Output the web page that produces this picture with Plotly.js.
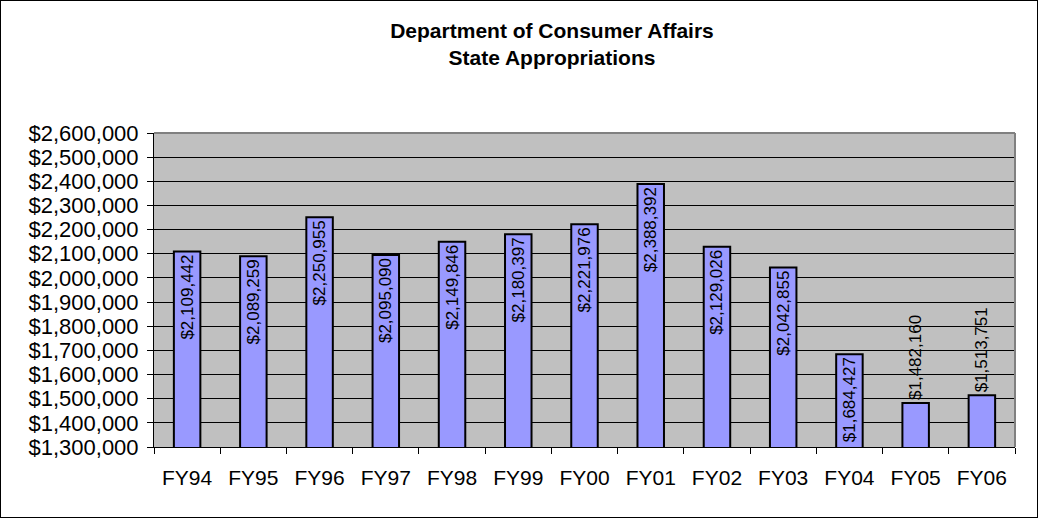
<!DOCTYPE html>
<html>
<head>
<meta charset="utf-8">
<script src="https://cdn.plot.ly/plotly-3.0.1.min.js"></script>
<style>
html,body{margin:0;padding:0;background:#fff;}
#wrap{position:relative;width:1039px;height:519px;}
#chart{width:1039px;height:519px;}
#frame{position:absolute;left:0;top:0;width:1038px;height:518px;box-sizing:border-box;border:1px solid #000;pointer-events:none;}
</style>
</head>
<body>
<div id="wrap"><div id="chart"></div><div id="frame"></div></div>
<script>
const categories = ["FY94","FY95","FY96","FY97","FY98","FY99","FY00","FY01","FY02","FY03","FY04","FY05","FY06"];
const appropriations = [2109442,2089259,2250955,2095090,2149846,2180397,2221976,2388392,2129026,2042855,1684427,1482160,1513751];
const labelPositions = ["inside","inside","inside","inside","inside","inside","inside","inside","inside","inside","inside","outside","outside"];
const yTickValues = [1300000,1400000,1500000,1600000,1700000,1800000,1900000,2000000,2100000,2200000,2300000,2400000,2500000,2600000];

const font = "Arial, 'Liberation Sans', sans-serif";

const trace = {
  type: "bar",
  x: categories,
  y: appropriations,
  marker: {color: "#9999FF", line: {color: "#000", width: 2}},
  text: appropriations.map(v => "$" + v.toLocaleString("en-US")),
  texttemplate: "%{text}",
  textposition: labelPositions,
  textangle: -90,
  insidetextanchor: "end",
  constraintext: "none",
  cliponaxis: false,
  textfont: {family: font, size: 17, color: "#000"},
  insidetextfont: {family: font, size: 17, color: "#000"},
  outsidetextfont: {family: font, size: 17, color: "#000"},
  hoverinfo: "none"
};

const layout = {
  width: 1039, height: 519,
  margin: {l: 154, r: 24, t: 133, b: 72},
  paper_bgcolor: "#fff",
  plot_bgcolor: "#C0C0C0",
  bargap: 0.6,
  showlegend: false,
  title: {
    text: "<b>Department of Consumer Affairs</b><br><b>State Appropriations</b>",
    font: {family: font, size: 21, color: "#000"},
    x: 552/1039, xref: "container", xanchor: "center",
    y: 1 - 38/519, yref: "container", yanchor: "top"
  },
  xaxis: {
    type: "category",
    tickson: "boundaries",
    ticks: "outside", ticklen: 6, tickcolor: "#000", tickwidth: 1,
    ticklabelstandoff: 12,
    showline: true, linecolor: "#000", linewidth: 1,
    showgrid: false,
    tickfont: {family: font, size: 21, color: "#000"},
    fixedrange: true
  },
  yaxis: {
    range: [1300000, 2600000],
    tickvals: yTickValues,
    ticktext: yTickValues.map(v => "$" + v.toLocaleString("en-US")),
    ticks: "outside", ticklen: 6, tickcolor: "#000", tickwidth: 1,
    ticklabelstandoff: 4,
    showline: true, linecolor: "#000", linewidth: 1,
    showgrid: true, gridcolor: "#000", gridwidth: 1,
    zeroline: false,
    tickfont: {family: font, size: 22, color: "#000"},
    fixedrange: true
  },
  shapes: [
    {type: "line", xref: "paper", yref: "paper", x0: 0, x1: 1, y0: 1, y1: 1, line: {color: "#808080", width: 2}, layer: "above"},
    {type: "line", xref: "paper", yref: "paper", x0: 1, x1: 1, y0: 0, y1: 1, line: {color: "#808080", width: 2}, layer: "above"}
  ]
};

Plotly.newPlot("chart", [trace], layout, {staticPlot: true, displayModeBar: false});
</script>
</body>
</html>
